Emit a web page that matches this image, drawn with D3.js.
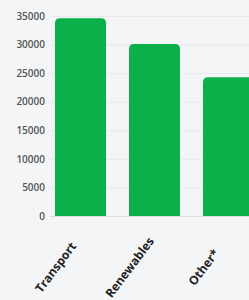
<!DOCTYPE html>
<html>
<head>
<meta charset="utf-8">
<script src="https://cdn.jsdelivr.net/npm/d3@7"></script>
<style>
  html, body { margin: 0; padding: 0; background: #f4f5f7; }
  svg { display: block; }
  .tick text { font-family: "Open Sans", sans-serif; }
</style>
</head>
<body>
<svg id="chart" width="249" height="300"></svg>
<script>
var categories = ["Transport", "Renewables", "Other*"];
var values = [34600, 30100, 24300];
var yTicks = [0, 5000, 10000, 15000, 20000, 25000, 30000, 35000];

var W = 249, H = 300;
var svg = d3.select("#chart");

svg.append("rect").attr("width", W).attr("height", H).attr("fill", "#f4f5f7");

var y = d3.scaleLinear().domain([0, 35000]).range([216, 16]);
// step 74, bar 51
var x = d3.scaleBand().domain(categories).range([55, 254])
	.paddingInner(23 / 74).paddingOuter(0).align(0);

// gridlines
svg.append("g").selectAll("line").data(yTicks).enter().append("line")
	.attr("x1", 50).attr("x2", W)
	.attr("y1", function(d) { return y(d) + 0.5; })
	.attr("y2", function(d) { return y(d) + 0.5; })
	.attr("stroke", function(d) { return d == 0 ? "#dcdcdc" : "#e8e9ec"; })
	.attr("stroke-width", 1);

// y axis labels
var yAxis = d3.axisLeft(y).tickValues(yTicks).tickSize(0).tickPadding(0)
	.tickFormat(d3.format("d"));
var ya = svg.append("g").attr("transform", "translate(45,0)").call(yAxis);
ya.select(".domain").remove();
ya.selectAll("text")
	.attr("fill", "#555")
	.attr("font-size", "10px")
	.attr("font-weight", 600);

// bars with rounded top corners
var r = 5;
var barPath = function(d, i) {
	var x0 = x(categories[i]), w = x.bandwidth();
	var y0 = y(d), yb = y(0);
	return "M" + x0 + "," + yb +
		"V" + (y0 + r) +
		"Q" + x0 + "," + y0 + " " + (x0 + r) + "," + y0 +
		"H" + (x0 + w - r) +
		"Q" + (x0 + w) + "," + y0 + " " + (x0 + w) + "," + (y0 + r) +
		"V" + yb + "Z";
};
svg.append("g").selectAll("path").data(values).enter().append("path")
	.attr("d", barPath)
	.attr("fill", "#0cb04a");

// x labels, rotated
svg.append("g").selectAll("text").data(categories).enter().append("text")
	.attr("transform", function(d) {
		var cx = x(d) + x.bandwidth() / 2 - 24;
		return "translate(" + cx + ",268) rotate(-53)";
	})
	.attr("text-anchor", "middle")
	.attr("dominant-baseline", "middle")
	.attr("font-family", "'Open Sans', sans-serif")
	.attr("font-weight", 700)
	.attr("font-size", "12px")
	.attr("fill", "#222")
	.text(function(d) { return d; });
</script>
</body>
</html>
